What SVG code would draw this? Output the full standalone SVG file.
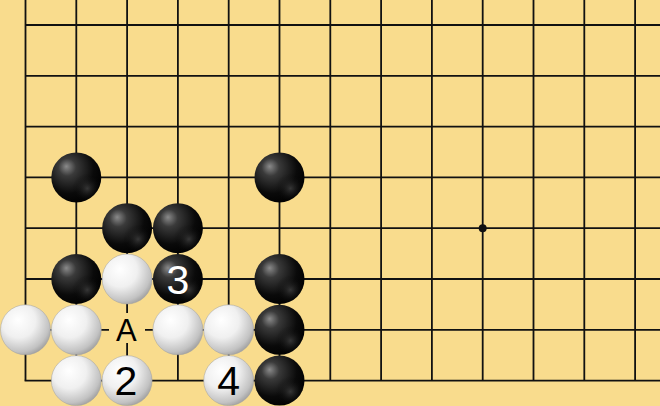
<svg xmlns="http://www.w3.org/2000/svg" width="660" height="406" viewBox="0 0 660 406">
<defs>
<radialGradient id="gb" cx="0.38" cy="0.35" r="0.7" fx="0.3" fy="0.28">
<stop offset="0" stop-color="#8a8a8a"/>
<stop offset="0.25" stop-color="#3a3a3a"/>
<stop offset="0.7" stop-color="#0a0a0a"/>
<stop offset="1" stop-color="#000"/>
</radialGradient>
<radialGradient id="gb2" cx="0.72" cy="0.72" r="0.3">
<stop offset="0" stop-color="#555" stop-opacity="0.6"/>
<stop offset="1" stop-color="#000" stop-opacity="0"/>
</radialGradient>
<radialGradient id="gw" cx="0.38" cy="0.35" r="0.75" fx="0.35" fy="0.3">
<stop offset="0" stop-color="#ffffff"/>
<stop offset="0.45" stop-color="#f0f0f0"/>
<stop offset="0.8" stop-color="#c2c2c2"/>
<stop offset="1" stop-color="#8e8e8e"/>
</radialGradient>
<style>
.grid line{stroke:#111;stroke-width:1.8}
.b{fill:url(#gb)}
.w{fill:url(#gw);stroke:#a0a0a0;stroke-width:0.5}
.t{font-family:"Liberation Sans",Arial,sans-serif;font-size:41px;text-anchor:middle}
</style>
</defs>
<rect width="660" height="406" fill="#f9dc8d"/>
<g class="grid">
<line x1="25.5" y1="0" x2="25.5" y2="380.6"/>
<line x1="76.3" y1="0" x2="76.3" y2="380.6"/>
<line x1="127.1" y1="0" x2="127.1" y2="380.6"/>
<line x1="177.9" y1="0" x2="177.9" y2="380.6"/>
<line x1="228.7" y1="0" x2="228.7" y2="380.6"/>
<line x1="279.5" y1="0" x2="279.5" y2="380.6"/>
<line x1="330.3" y1="0" x2="330.3" y2="380.6"/>
<line x1="381.1" y1="0" x2="381.1" y2="380.6"/>
<line x1="431.9" y1="0" x2="431.9" y2="380.6"/>
<line x1="482.7" y1="0" x2="482.7" y2="380.6"/>
<line x1="533.5" y1="0" x2="533.5" y2="380.6"/>
<line x1="584.3" y1="0" x2="584.3" y2="380.6"/>
<line x1="635.1" y1="0" x2="635.1" y2="380.6"/>
<line x1="25.5" y1="25" x2="660" y2="25"/>
<line x1="25.5" y1="75.8" x2="660" y2="75.8"/>
<line x1="25.5" y1="126.6" x2="660" y2="126.6"/>
<line x1="25.5" y1="177.4" x2="660" y2="177.4"/>
<line x1="25.5" y1="228.2" x2="660" y2="228.2"/>
<line x1="25.5" y1="279" x2="660" y2="279"/>
<line x1="25.5" y1="329.8" x2="660" y2="329.8"/>
<line x1="24.6" y1="380.6" x2="660" y2="380.6"/>
</g>
<circle cx="482.7" cy="228.2" r="4" fill="#111"/>
<g id="black-stones">
<g id="b1"><circle class="b" cx="76.3" cy="177.4" r="25"/><circle fill="url(#gb2)" cx="76.3" cy="177.4" r="25"/></g>
<g id="b2"><circle class="b" cx="279.5" cy="177.4" r="25"/><circle fill="url(#gb2)" cx="279.5" cy="177.4" r="25"/></g>
<g id="b3"><circle class="b" cx="127.1" cy="228.2" r="25"/><circle fill="url(#gb2)" cx="127.1" cy="228.2" r="25"/></g>
<g id="b4"><circle class="b" cx="177.9" cy="228.2" r="25"/><circle fill="url(#gb2)" cx="177.9" cy="228.2" r="25"/></g>
<g id="b5"><circle class="b" cx="76.3" cy="279" r="25"/><circle fill="url(#gb2)" cx="76.3" cy="279" r="25"/></g>
<g id="b6"><circle class="b" cx="177.9" cy="279" r="25"/><circle fill="url(#gb2)" cx="177.9" cy="279" r="25"/><text class="t" x="177.9" y="293.5" fill="#fff">3</text></g>
<g id="b7"><circle class="b" cx="279.5" cy="279" r="25"/><circle fill="url(#gb2)" cx="279.5" cy="279" r="25"/></g>
<g id="b8"><circle class="b" cx="279.5" cy="329.8" r="25"/><circle fill="url(#gb2)" cx="279.5" cy="329.8" r="25"/></g>
<g id="b9"><circle class="b" cx="279.5" cy="380.6" r="25"/><circle fill="url(#gb2)" cx="279.5" cy="380.6" r="25"/></g>
</g>
<g id="white-stones">
<g id="w1"><circle class="w" cx="127.1" cy="279" r="25"/></g>
<g id="w2"><circle class="w" cx="25.5" cy="329.8" r="25"/></g>
<g id="w3"><circle class="w" cx="76.3" cy="329.8" r="25"/></g>
<g id="w4"><circle class="w" cx="177.9" cy="329.8" r="25"/></g>
<g id="w5"><circle class="w" cx="228.7" cy="329.8" r="25"/></g>
<g id="w6"><circle class="w" cx="76.3" cy="380.6" r="25"/></g>
<g id="w7"><circle class="w" cx="127.1" cy="380.6" r="25"/><text class="t" x="126" y="395.3" fill="#000">2</text></g>
<g id="w8"><circle class="w" cx="228.7" cy="380.6" r="25"/><text class="t" x="228.7" y="395.3" fill="#000">4</text></g>
</g>
<g id="label-A">
<rect x="109" y="313" width="36" height="30" fill="#f9dc8d"/>
<text x="126.3" y="340.7" font-family="'Liberation Sans',Arial,sans-serif" font-size="31" text-anchor="middle" fill="#000">A</text>
</g>
</svg>
